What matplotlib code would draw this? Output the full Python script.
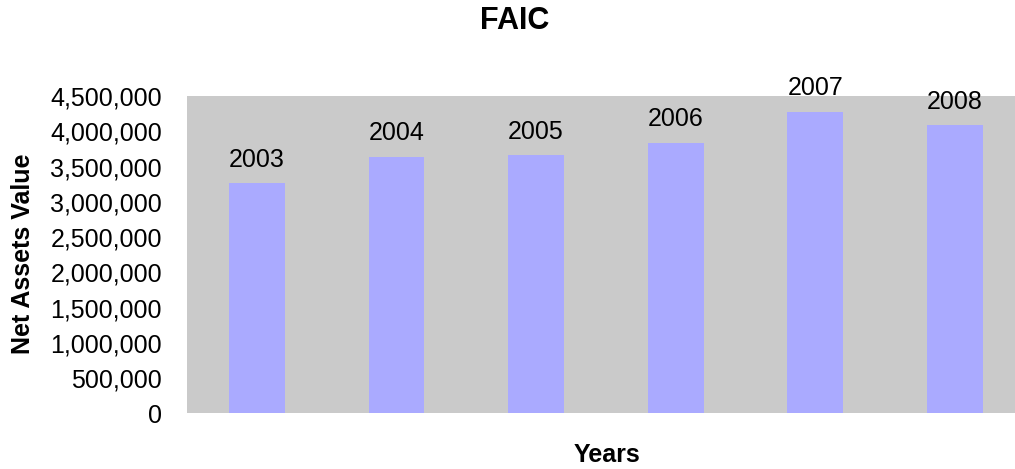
import matplotlib
matplotlib.use("Agg")
import matplotlib.pyplot as plt
from matplotlib.ticker import FuncFormatter

plt.rcParams['font.family'] = ['Liberation Sans', 'DejaVu Sans']

years = ['2003', '2004', '2005', '2006', '2007', '2008']
net_assets = [3260000, 3635000, 3660000, 3835000, 4275000, 4085000]

fig = plt.figure(figsize=(10.15, 4.69), dpi=100)
# plot area runs off the right edge like the original
ax = fig.add_axes([0.1842, 0.1188, 0.8255, 0.6765])
ax.set_facecolor('#CACACA')

x = range(len(years))
bars = ax.bar(x, net_assets, width=0.4, color='#AAAAFF')

for xi, v, lab in zip(x, net_assets, years):
    ax.annotate(lab, (xi, v), xytext=(0, 12), textcoords='offset points',
                ha='center', va='baseline', fontsize=18)

ax.set_xlim(-0.5, len(years) - 0.5)
ax.set_ylim(0, 4500000)
ax.set_yticks(range(0, 4500001, 500000))
ax.yaxis.set_major_formatter(FuncFormatter(lambda v, p: f'{int(v):,}'))
ax.set_xticks([])
ax.tick_params(axis='y', length=0, pad=18, labelsize=18)
for s in ax.spines.values():
    s.set_visible(False)

fig.text(515 / 1015, 1 - 21 / 469, 'FAIC', ha='center', va='center',
         fontsize=22, fontweight='bold')
fig.text(607 / 1015, 1 - 455 / 469, 'Years', ha='center', va='center',
         fontsize=18, fontweight='bold')
fig.text(23 / 1015, 1 - 254 / 469, 'Net Assets Value', ha='center', va='center',
         rotation=90, fontsize=18, fontweight='bold')

fig.savefig('out.png', dpi=100)
